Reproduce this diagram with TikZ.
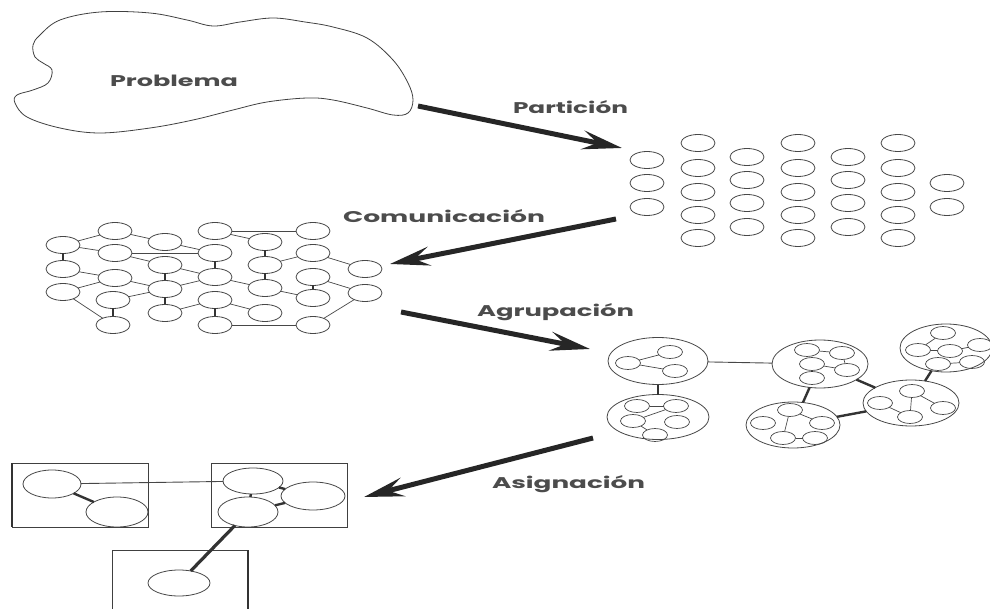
\documentclass[tikz,border=0pt]{standalone}
\usepackage{fontspec}
\usepackage{graphicx}
\setmainfont{Poppins}
\usetikzlibrary{shapes.geometric,arrows.meta}
\begin{document}
\begin{tikzpicture}[x=1pt,y=-1pt,
  nd/.style={ellipse,draw=black!72,line width=0.8pt,minimum width=34pt,minimum height=17pt,inner sep=0pt,outer sep=0pt},
  sn/.style={ellipse,draw=black!72,line width=0.7pt,minimum width=25pt,minimum height=13pt,inner sep=0pt,outer sep=0pt},
  cl/.style={ellipse,draw=black!72,line width=0.8pt,inner sep=0pt,outer sep=0pt},
  bx/.style={rectangle,draw=black!75,line width=0.9pt,minimum width=136pt,inner sep=0pt,outer sep=0pt},
  tn/.style={draw=black!72,line width=0.7pt},
  tk/.style={draw=black!80,line width=2.4pt},
  flow/.style={draw=black!85,line width=5pt,-{Stealth[length=40pt,width=19pt,inset=15pt]}},
  lbl/.style={anchor=base west,inner sep=0pt,outer sep=0pt,text=black!70,font=\bfseries\fontsize{15.5}{18}\selectfont}]
\useasboundingbox (0,0) rectangle (990,609);
\clip (0,0) rectangle (990,609);

% ---------- Problema cloud ----------
\draw[black!75,line width=0.8pt] plot[smooth cycle,tension=0.6] coordinates {
 (40,35) (60,20) (100,12) (150,13) (187,20) (213,26) (240,22) (273,18) (305,22) (333,27)
 (367,38) (393,60) (408,83) (413,100) (408,113) (393,115) (367,108) (333,100) (307,98)
 (267,102) (233,110) (193,120) (150,128) (100,133) (60,128) (27,117) (15,103) (17,95)
 (33,90) (48,83) (52,70) (43,63) (35,57) (33,45)};
\node[lbl] (tprob) at (110,87) {\resizebox{128pt}{\height}{Problema}};

% ---------- Partition grid ----------
\foreach \y [count=\j] in {160,183,207} \node[nd] (p1-\j) at (647,\y) {};
\foreach \x/\c in {698/2,798/4,898/6}
  \foreach \y [count=\j] in {143,168,192,215,238} \node[nd] (p\c-\j) at (\x,\y) {};
\foreach \x/\c in {747/3,848/5}
  \foreach \y [count=\j] in {157,180,203,227} \node[nd] (p\c-\j) at (\x,\y) {};
\foreach \y [count=\j] in {183,207} \node[nd] (p7-\j) at (947,\y) {};

% ---------- Communication network ----------
\node[nd] (A1) at (63,245) {};
\node[nd] (A2) at (63,269) {};
\node[nd] (A3) at (63,292) {};
\node[nd] (B1) at (115,231) {};
\node[nd] (B2) at (115,253) {};
\node[nd] (B3) at (115,278) {};
\node[nd] (B4) at (113,300) {};
\node[nd] (B5) at (113,325) {};
\node[nd] (C1) at (165,242) {};
\node[nd] (C2) at (165,265) {};
\node[nd] (C3) at (165,289) {};
\node[nd] (C4) at (165,313) {};
\node[nd] (D1) at (215,231) {};
\node[nd] (D2) at (215,253) {};
\node[nd] (D3) at (215,277) {};
\node[nd] (D4) at (215,300) {};
\node[nd] (D5) at (215,325) {};
\node[nd] (E1) at (265,242) {};
\node[nd] (E2) at (265,265) {};
\node[nd] (E3) at (265,288) {};
\node[nd] (E4) at (265,313) {};
\node[nd] (F1) at (313,231) {};
\node[nd] (F2) at (313,253) {};
\node[nd] (F3) at (313,277) {};
\node[nd] (F4) at (313,298) {};
\node[nd] (F5) at (313,325) {};
\node[nd] (G1) at (365,269) {};
\node[nd] (G2) at (365,293) {};
\foreach \a/\b in {B1/A1,B1/C1,A1/B2,B2/D2,C1/D2,B2/C2,A2/B3,B3/C3,C2/D3,A3/B3,A3/B5,
  B4/C3,C3/D3,C4/D4,D1/F1,D1/E1,E2/F2,F2/G1,D3/E3,E3/F4,F3/G2,D4/E4,D5/F5,F5/G2}
  \draw[tn] (\a) -- (\b);
\foreach \a/\b in {A1/A2,B4/B5,C2/C3,C3/C4,D2/D3,D4/D5,E1/E2,E2/E3,F3/F4}
  \draw[tk] (\a) -- (\b);

% ---------- Clusters ----------
\node[cl,minimum width=100pt,minimum height=47pt] (K1) at (658,361) {};
\node[sn] (k1a) at (628,363) {};
\node[sn] (k1b) at (670,352) {};
\node[sn] (k1c) at (675,371) {};
\draw[tn] (k1a) -- (k1b); \draw[tn] (k1a) -- (k1c);

\node[cl,minimum width=102pt,minimum height=45pt] (K2) at (658,417) {};
\node[sn] (k2a) at (637,406) {};
\node[sn] (k2b) at (676,406) {};
\node[sn] (k2c) at (633,421) {};
\node[sn] (k2d) at (677,422) {};
\node[sn] (k2e) at (655,435) {};
\draw[tn] (k2a) -- (k2b); \draw[tn] (k2c) -- (k2b); \draw[tn] (k2c) -- (k2e);

\node[cl,minimum width=96pt,minimum height=48pt] (K3) at (820,364) {};
\node[sn] (k3a) at (807,350) {};
\node[sn] (k3b) at (842,353) {};
\node[sn] (k3c) at (812,364) {};
\node[sn] (k3d) at (847,370) {};
\node[sn] (k3e) at (812,378) {};
\draw[tn] (k3a) -- (k3b); \draw[tn] (k3c) -- (k3d); \draw[tn] (k3b) -- (k3d);
\draw[tk,line width=1.6pt] (k3c) -- (k3e);

\node[cl,minimum width=92pt,minimum height=48pt] (K4) at (946,348) {};
\node[sn] (k4a) at (943,333) {};
\node[sn] (k4b) at (918,350) {};
\node[sn] (k4c) at (950,351) {};
\node[sn] (k4d) at (980,345) {};
\node[sn] (k4e) at (938,364) {};
\node[sn] (k4f) at (972,362) {};
\draw[tn] (k4a) -- (k4b); \draw[tn] (k4b) -- (k4c); \draw[tn] (k4c) -- (k4d);
\draw[tn] (k4e) -- (k4f);

\node[cl,minimum width=94pt,minimum height=46pt] (K5) at (793,425) {};
\node[sn] (k5a) at (790,410) {};
\node[sn] (k5b) at (763,423) {};
\node[sn] (k5c) at (822,423) {};
\node[sn] (k5d) at (783,438) {};
\node[sn] (k5e) at (815,438) {};
\draw[tn] (k5a) -- (k5d); \draw[tn] (k5a) -- (k5c); \draw[tn] (k5d) -- (k5e);

\node[cl,minimum width=96pt,minimum height=46pt] (K6) at (911,403) {};
\node[sn] (k6a) at (912,391) {};
\node[sn] (k6b) at (880,403) {};
\node[sn] (k6c) at (910,417) {};
\node[sn] (k6d) at (943,408) {};
\draw[tn] (k6a) -- (k6c); \draw[tn] (k6b) -- (k6c); \draw[tn] (k6a) -- (k6d);

\draw[tk] (K1) -- (K2);
\draw[tn,line width=0.9pt] (K1) -- (K3);
\draw[tk] (K3) -- (K5);
\draw[tk] (K3) -- (K6);
\draw[tk] (K5) -- (K6);
\draw[tk] (K4) -- (K6);

% ---------- Assignment ----------
\node[bx,minimum height=64pt] (box1) at (80,495) {};
\node[bx,minimum height=64pt] (box2) at (279,495) {};
\node[bx,minimum height=80pt] (box3) at (180,590) {};
\draw[black!80,line width=2.5pt] (box1.north west) -- (box1.south west);
\draw[black!80,line width=2.5pt] (box3.north east) -- (box3.south east);
\node[cl,minimum width=58pt,minimum height=28pt] (e1) at (52,484) {};
\node[cl,minimum width=62pt,minimum height=30pt] (e2) at (117,512) {};
\node[cl,minimum width=60pt,minimum height=26pt] (e3) at (253,481) {};
\node[cl,minimum width=64pt,minimum height=28pt] (e4) at (313,496) {};
\node[cl,minimum width=60pt,minimum height=30pt] (e5) at (248,512) {};
\node[cl,minimum width=62pt,minimum height=26pt] (e6) at (179,583) {};
\draw[tn,line width=0.9pt] (e1) -- (e3);
\draw[tk] (e1) -- (e2);
\draw[tk] (e3) -- (e5);
\draw[tk] (e3) -- (e4);
\draw[tk] (e5) -- (e4);
\draw[tk,line width=3.2pt] (e5) -- (e6);

% ---------- Big arrows and labels ----------
\coordinate (pa1) at (418,106); \coordinate (pa2) at (622,148);
\coordinate (ca1) at (616,219); \coordinate (ca2) at (390,264);
\coordinate (ga1) at (401,312); \coordinate (ga2) at (590,349);
\coordinate (sa1) at (593,438); \coordinate (sa2) at (364,497);
\draw[flow] (pa1) -- (pa2);
\draw[flow] (ca1) -- (ca2);
\draw[flow] (ga1) -- (ga2);
\draw[flow] (sa1) -- (sa2);
\node[lbl] (tpart) at (513,114) {\resizebox{115pt}{\height}{Partición}};
\node[lbl] (tcom) at (343,223) {\resizebox{202pt}{\height}{Comunicación}};
\node[lbl] (tagr) at (477,317) {\resizebox{157pt}{\height}{Agrupación}};
\node[lbl] (tasg) at (492,488) {\resizebox{153pt}{\height}{Asignación}};
\end{tikzpicture}
\end{document}
